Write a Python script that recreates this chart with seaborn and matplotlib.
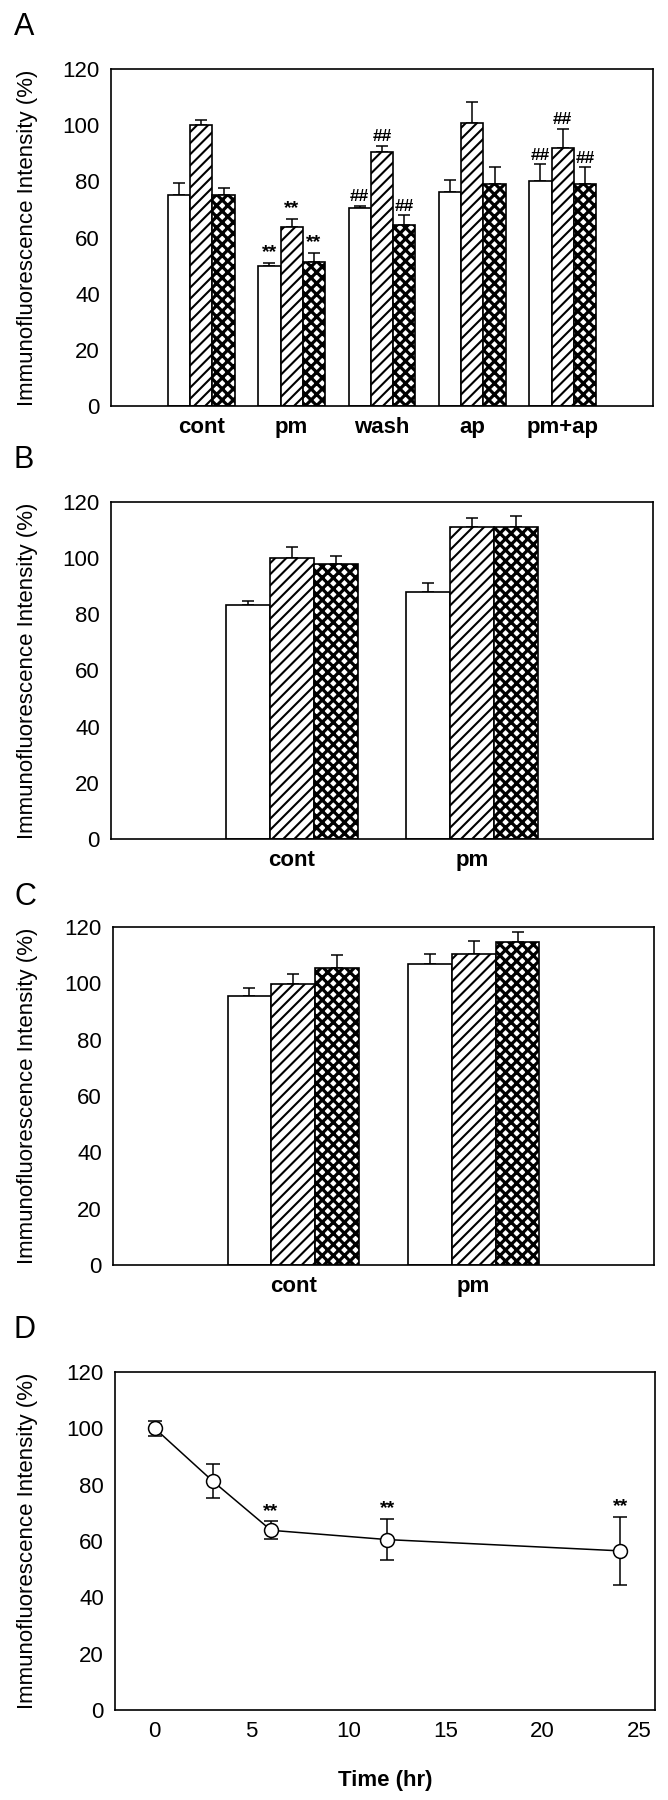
import matplotlib
matplotlib.use("Agg")
import numpy as np
import pandas as pd
import seaborn as sns
import matplotlib.pyplot as plt

# ---------------- data ----------------
series = ["open", "hatched", "cross"]

groups_a = ["cont", "pm", "wash", "ap", "pm+ap"]
a_open = [75.0, 50.0, 70.5, 76.2, 80.2]
a_open_err = [4.5, 1.0, 0.7, 4.2, 5.8]
a_hatch = [100.0, 63.6, 90.6, 100.8, 92.0]
a_hatch_err = [1.8, 3.0, 2.1, 7.3, 6.7]
a_cross = [75.0, 51.4, 64.6, 79.0, 79.0]
a_cross_err = [2.8, 3.2, 3.3, 6.0, 6.0]
a_mark_open = ["", "**", "##", "", "##"]
a_mark_hatch = ["", "**", "##", "", "##"]
a_mark_cross = ["", "**", "##", "", "##"]

groups_b = ["cont", "pm"]
b_open = [83.2, 87.9]
b_open_err = [1.7, 3.2]
b_hatch = [100.1, 111.0]
b_hatch_err = [3.7, 3.4]
b_cross = [98.1, 111.2]
b_cross_err = [2.5, 3.8]

groups_c = ["cont", "pm"]
c_open = [95.4, 106.7]
c_open_err = [2.9, 3.7]
c_hatch = [99.6, 110.4]
c_hatch_err = [3.7, 4.7]
c_cross = [105.3, 114.5]
c_cross_err = [4.9, 3.8]

d_time = [0, 3, 6, 12, 24]
d_mean = [100.0, 81.2, 63.8, 60.5, 56.5]
d_err = [2.7, 6.0, 3.2, 7.4, 12.1]
d_mark = ["", "", "**", "**", "**"]

y_ticks = [0, 20, 40, 60, 80, 100, 120]
d_xticks = [0, 5, 10, 15, 20, 25]
ylabel = "Immunofluorescence Intensity (%)"

# ---------------- style ----------------
sns.set_theme(style="white")
plt.rcParams["font.family"] = ["Liberation Sans", "DejaVu Sans"]
plt.rcParams["axes.edgecolor"] = "black"
plt.rcParams["axes.linewidth"] = 1.2
plt.rcParams["hatch.linewidth"] = 1.5
plt.rcParams["hatch.color"] = "black"

W, H = 668, 1800
fig = plt.figure(figsize=(W / 100, H / 100), dpi=100)
fig.patch.set_facecolor("white")


def axes_px(l, t, r, b):
    return fig.add_axes([l / W, 1 - b / H, (r - l) / W, (b - t) / H])


hatches = ["", "///", "xxx"]
hatch_lw = [1.0, 1.5, 2.3]


def mark_size(m):
    return 14 if m == "**" else 12.5


def style_y(ax):
    ax.set_ylim(0, 120)
    ax.set_yticks(y_ticks)
    ax.tick_params(axis="y", direction="in", length=4, width=1, pad=8,
                   labelsize=16, colors="black")
    ax.set_ylabel("")
    for s in ax.spines.values():
        s.set_color("black")
        s.set_linewidth(1.2)


def bar_panel(ax, groups, vals, errs, width, marks=None):
    rows = []
    for s, v in zip(series, vals):
        for g, val in zip(groups, v):
            rows.append({"group": g, "series": s, "value": val})
    df = pd.DataFrame(rows)
    sns.barplot(data=df, x="group", y="value", hue="series", order=groups,
                hue_order=series, width=width, errorbar=None,
                palette=["white"] * 3, saturation=1, edgecolor="black",
                linewidth=1.2, legend=False, ax=ax, zorder=2)
    bar_conts = list(ax.containers)
    for ci, cont in enumerate(bar_conts):
        xs, ys = [], []
        for bar in cont.patches:
            bar.set_facecolor("white")
            bar.set_edgecolor("black")
            bar.set_hatch(hatches[ci])
            if hasattr(bar, "set_hatch_linewidth"):
                bar.set_hatch_linewidth(hatch_lw[ci])
            xs.append(bar.get_x() + bar.get_width() / 2)
            ys.append(bar.get_height())
        e = np.array(errs[ci])
        ax.errorbar(xs, ys, yerr=[np.zeros_like(e), e], fmt="none",
                    ecolor="black", elinewidth=1.1, capsize=4.3,
                    capthick=1.1, zorder=1)
        if marks is not None:
            for x, y, er, m in zip(xs, ys, e, marks[ci]):
                if m:
                    ax.text(x, y + er + 0.6, m, ha="center", va="bottom",
                            fontsize=mark_size(m), fontweight="bold",
                            color="black")
    ax.set_xlim(-1, len(groups))
    ax.set_xlabel("")
    ax.tick_params(axis="x", length=0, pad=8, labelsize=16, colors="black")
    for lab in ax.get_xticklabels():
        lab.set_fontweight("bold")
    style_y(ax)


# Panel A
axA = axes_px(111, 69, 653, 406)
bar_panel(axA, groups_a, [a_open, a_hatch, a_cross],
          [a_open_err, a_hatch_err, a_cross_err], 0.74,
          marks=[a_mark_open, a_mark_hatch, a_mark_cross])

# Panel B
axB = axes_px(111, 502, 653, 839)
bar_panel(axB, groups_b, [b_open, b_hatch, b_cross],
          [b_open_err, b_hatch_err, b_cross_err], 0.73)

# Panel C
axC = axes_px(113, 927, 654, 1265)
bar_panel(axC, groups_c, [c_open, c_hatch, c_cross],
          [c_open_err, c_hatch_err, c_cross_err], 0.73)

# Panel D
axD = axes_px(115, 1372, 655, 1710)
axD.errorbar(d_time, d_mean, yerr=d_err, fmt="none", ecolor="black",
             elinewidth=1.1, capsize=5, capthick=1.1, zorder=2)
sns.lineplot(x=d_time, y=d_mean, ax=axD, color="black", marker="o",
             markersize=10, markerfacecolor="white", markeredgecolor="black",
             markeredgewidth=1.1, linewidth=1.1, zorder=3, errorbar=None)
for t, m, e, mk in zip(d_time, d_mean, d_err, d_mark):
    if mk:
        axD.text(t, m + e + 0.6, mk, ha="center", va="bottom",
                 fontsize=mark_size(mk), fontweight="bold", color="black")
axD.set_xlim(-2.05, 25.8)
axD.set_xticks(d_xticks)
axD.tick_params(axis="x", direction="in", length=5, width=1, pad=8,
                labelsize=16, colors="black")
style_y(axD)
axD.set_xlabel("Time (hr)", fontsize=16, fontweight="bold", labelpad=20,
               color="black")

# y labels and panel letters
for (ytop, ybot) in [(69, 406), (502, 839), (927, 1265), (1372, 1710)]:
    fig.text(28 / W, 1 - (ytop + ybot) / 2 / H, ylabel, rotation=90,
             ha="center", va="center", fontsize=16, color="black")
for letter, yc in [("A", 27), ("B", 460), ("C", 897), ("D", 1330)]:
    fig.text(14 / W, 1 - yc / H, letter, ha="left", va="center",
             fontsize=22, color="black")

fig.savefig("out.png", dpi=100, facecolor="white")
